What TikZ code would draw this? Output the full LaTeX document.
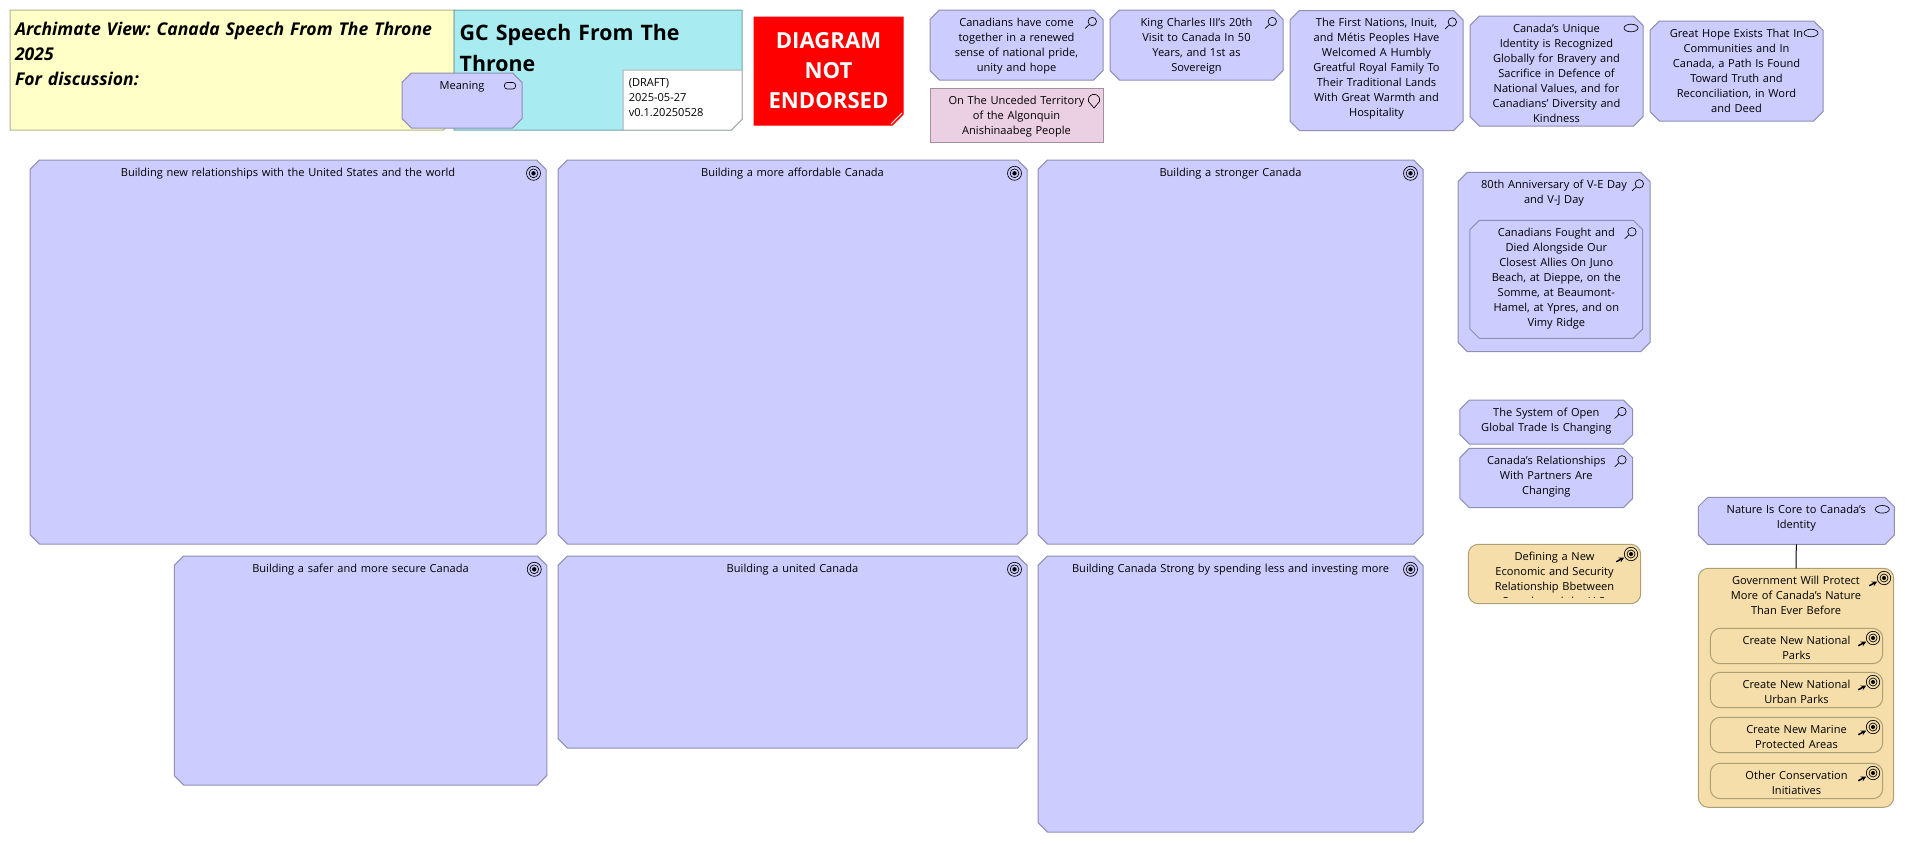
\documentclass[tikz,border=0pt]{standalone}
\usepackage{fontspec}
\setmainfont{Open Sans}
\frenchspacing
\definecolor{MotivFill}{HTML}{CCCCFF}
\definecolor{MotivLine}{HTML}{8F8FB3}
\definecolor{PlaceFill}{HTML}{EBD0E3}
\definecolor{PlaceLine}{HTML}{A48FA0}
\definecolor{OutcomeFill}{HTML}{F5DEAA}
\definecolor{OutcomeLine}{HTML}{ABA076}
\definecolor{TitleFill}{HTML}{FFFFC8}
\definecolor{TitleLine}{HTML}{B3B38C}
\definecolor{ThroneFill}{HTML}{A8ECF2}
\definecolor{ThroneLine}{HTML}{75A5A9}
\usetikzlibrary{shapes.misc, arrows.meta, calc}

\begin{document}
\begin{tikzpicture}[
  x=0.75pt, y=-0.75pt,
  dims/.code 2 args={\pgfmathsetlengthmacro\elwd{(#1-24)*0.75pt}\pgfmathsetlengthmacro\eldp{(#2-26)*0.75pt}\tikzset{minimum width=#1*0.75pt, minimum height=#2*0.75pt, text width=\elwd, text height=4.5pt, text depth=\eldp}},
  eltext/.style={font=\fontsize{8.3pt}{11.25pt}\selectfont, align=center, inner sep=0pt, outer sep=0pt},
  motiv/.style={chamfered rectangle, chamfered rectangle xsep=3.5pt, chamfered rectangle ysep=3.5pt, draw=MotivLine, fill=MotivFill, line width=0.75pt, eltext},
  place/.style={rectangle, draw=PlaceLine, fill=PlaceFill, line width=0.75pt, eltext},
  outcomebox/.style={rectangle, rounded corners=7.5pt, draw=OutcomeLine, fill=OutcomeFill, line width=0.75pt, eltext},
  foldnote/.style={chamfered rectangle, chamfered rectangle corners=south east, chamfered rectangle xsep=4pt, chamfered rectangle ysep=4pt, line width=0.75pt, inner sep=0pt, outer sep=0pt, align=left},
  tie/.style={draw=black, line width=0.75pt},
  lens/.pic={\draw[line width=0.5pt] (-10.7,11.5) circle[radius=4.2] (-13.7,14.5) -- (-18,18.5);},
  oval/.pic={\draw[line width=0.5pt] (-12,12) ellipse[x radius=7, y radius=3.8];},
  sense/.pic={\draw[line width=0.5pt, rounded corners=2pt] (-17.5,9.5) rectangle (-6.5,16);},
  bullseye/.pic={\draw[line width=0.5pt] (-12.5,13.3) circle[radius=7] circle[radius=4.4]; \fill (-12.5,13.3) circle[radius=2.2];},
  aim/.pic={\draw[line width=0.5pt] (-9.7,9.7) circle[radius=6.7] circle[radius=4]; \fill (-9.7,9.7) circle[radius=2];
    \draw[line width=1.1pt, -{Stealth[length=4pt, width=4pt]}] (-24.4,17.4) -- (-16.5,13.2);},
  pin/.pic={\draw[line width=0.5pt] (-9,20) -- (-14.5,13.5) arc[start angle=165, end angle=375, radius=5.7] -- cycle;}
]
  \useasboundingbox (0,0) rectangle (1905,843);

  % header notes
  \node[foldnote, draw=TitleLine, fill=TitleFill, minimum width=333pt, minimum height=90pt, text width=318pt, text height=11.25pt, text depth=63.75pt,
    font=\fontsize{13.2pt}{19pt}\selectfont\bfseries\itshape] (title) at (232,70)
    {\hspace*{-3.75pt}Archimate View: Canada Speech From The Throne\\\hspace*{-3.75pt}2025\\\hspace*{-3.75pt}For discussion:};
  \node[foldnote, draw=ThroneLine, fill=ThroneFill, minimum width=216pt, minimum height=90pt, text width=200pt, text height=15pt, text depth=60pt,
    font=\fontsize{16pt}{23.6pt}\selectfont\bfseries] (throne) at (598,70)
    {\hspace*{-3.75pt}GC Speech From The\\\hspace*{-3.75pt}Throne};
  \node[foldnote, draw=black!30, fill=white, minimum width=89.25pt, minimum height=45pt, text width=74pt, text height=4.5pt, text depth=25pt,
    font=\fontsize{8.3pt}{11.25pt}\selectfont] (draft) at (682.5,100)
    {\hspace*{-3.3pt}(DRAFT)\\\hspace*{-3.3pt}2025-05-27\\\hspace*{-3.3pt}v0.1.20250528};
  \node[motiv, dims={120}{55}] (meaning) at (462,100.5) {Meaning};
  \node[foldnote, draw=red, fill=red, text=white, minimum width=111.75pt, minimum height=81pt, align=center, text width=100pt,
    font=\fontsize{16.6pt}{22.5pt}\selectfont\bfseries] (endorse) at (828.5,71) {DIAGRAM\\NOT\\ENDORSED};
  \draw[white, line width=0.75pt] (endorse.east |- endorse.south) ++(-12,-1) -- ++(11,-11);

  % top row
  \node[motiv, dims={173}{70}] (pride) at (1016.5,45) {Canadians have come\\together in a renewed\\sense of national pride,\\unity and hope};
  \node[place, dims={173}{54}] (unceded) at (1016.5,115) {On The Unceded Territory\\of the Algonquin\\Anishinaabeg People};
  \node[motiv, dims={173}{70}] (king) at (1196.5,45) {King Charles III's 20th\\Visit to Canada In 50\\Years, and 1st as\\Sovereign};
  \node[motiv, dims={173}{120}] (peoples) at (1376.5,70.5) {The First Nations, Inuit,\\and Métis Peoples Have\\Welcomed A Humbly\\Greatful Royal Family To\\Their Traditional Lands\\With Great Warmth and\\Hospitality};
  \node[motiv, dims={173}{110}] (unique) at (1556.5,71) {Canada's Unique\\Identity is Recognized\\Globally for Bravery and\\Sacrifice in Defence of\\National Values, and for\\Canadians' Diversity and\\Kindness};
  \node[motiv, dims={173}{100}] (hope) at (1736.5,71) {Great Hope Exists That In\\Communities and In\\Canada, a Path Is Found\\Toward Truth and\\Reconciliation, in Word\\and Deed};

  % priorities
  \node[motiv, dims={516}{384}] (world) at (288,352) {Building new relationships with the United States and the world};
  \node[motiv, dims={469}{384}] (afford) at (792.5,352) {Building a more affordable Canada};
  \node[motiv, dims={385}{384}] (stronger) at (1230.5,352) {Building a stronger Canada};
  \node[motiv, dims={372.5}{229}] (safer) at (360.5,670.5) {Building a safer and more secure Canada};
  \node[motiv, dims={469}{192}] (united) at (792.5,652) {Building a united Canada};
  \node[motiv, dims={385}{276}] (spending) at (1230.5,694) {Building Canada Strong by spending less and investing more};

  % right columns
  \node[motiv, dims={192}{179.4}] (anniv) at (1554,262) {80th Anniversary of V-E Day\\and V-J Day};
  \node[motiv, dims={172.7}{118}] (fought) at (1556.3,279.3) {Canadians Fought and\\Died Alongside Our\\Closest Allies On Juno\\Beach, at Dieppe, on the\\Somme, at Beaumont-\\Hamel, at Ypres, and on\\Vimy Ridge};
  \node[motiv, dims={172.7}{44}] (trade) at (1546.3,422) {The System of Open\\Global Trade Is Changing};
  \node[motiv, dims={172.7}{59.4}] (partners) at (1546.3,478) {Canada's Relationships\\With Partners Are\\Changing};

  \node[outcomebox, dims={172.4}{59.4}] (defining) at (1554.5,574) {};
  \begin{scope}
    \clip (defining.north west) rectangle ([yshift=5pt]defining.south east);
    \node[eltext, dims={172.4}{59.4}] (defining-text) at (defining) {Defining a New\\Economic and Security\\Relationship Bbetween\\Canada and the U.S.};
  \end{scope}

  \node[motiv, dims={196}{47}] (nature) at (1796.3,520.8) {Nature Is Core to Canada's\\Identity};
  \node[outcomebox, dims={195.4}{239}] (protect) at (1796,687.8) {Government Will Protect\\More of Canada's Nature\\Than Ever Before};
  \node[outcomebox, dims={172.4}{35.4}] (parks) at (1796.5,646) {Create New National\\Parks};
  \node[outcomebox, dims={172.4}{35.4}] (urban) at (1796.5,690) {Create New National\\Urban Parks};
  \node[outcomebox, dims={172.4}{35.4}] (marine) at (1796.5,735) {Create New Marine\\Protected Areas};
  \node[outcomebox, dims={172.4}{35.4}] (other) at (1796.5,781) {Other Conservation\\Initiatives};
  \draw[tie] (nature.south) -- (protect.north);

  % corner icons
  \foreach \elem in {pride, king, peoples, anniv, fought, trade, partners}
    \pic at (\elem.east |- \elem.north) {lens};
  \foreach \elem in {unique, hope, nature}
    \pic at (\elem.east |- \elem.north) {oval};
  \foreach \elem in {world, afford, stronger, safer, united, spending}
    \pic at (\elem.east |- \elem.north) {bullseye};
  \foreach \elem in {defining, protect, parks, urban, marine, other}
    \pic at (\elem.east |- \elem.north) {aim};
  \pic at (meaning.east |- meaning.north) {sense};
  \pic at (unceded.east |- unceded.north) {pin};
\end{tikzpicture}
\end{document}
